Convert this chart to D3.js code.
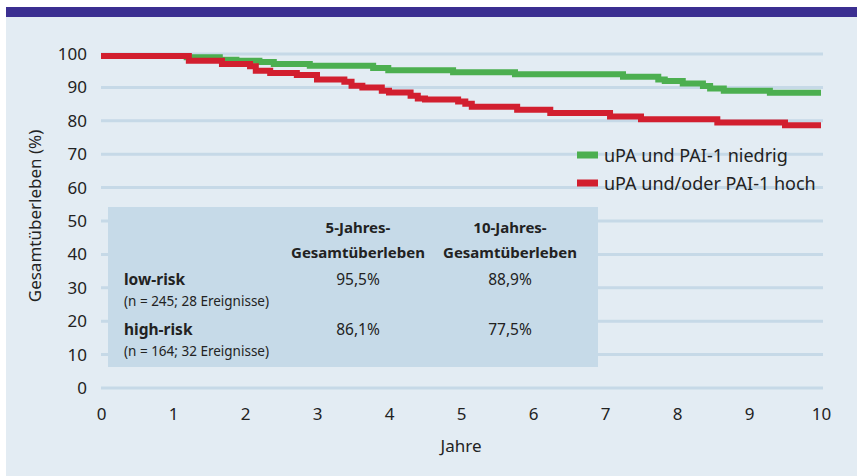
<!DOCTYPE html>
<html>
<head>
<meta charset="utf-8">
<script src="https://cdn.jsdelivr.net/npm/d3@7"></script>
<style>
  body { margin: 0; background: #fff; }
  svg text { font-family: "Noto Sans", sans-serif; fill: #222; }
</style>
</head>
<body>
<div id="chart"></div>
<script>
// Kaplan-Meier steps (years, survival %)
var lowYears  = [0, 1.19, 1.65, 1.88, 2.2, 2.4, 2.9, 3.78, 3.99, 4.89, 5.75, 7.25, 7.74, 7.83, 8.08, 8.36, 8.46, 8.65, 9.29, 10];
var lowSurv   = [99.4, 99.0, 98.3, 98.0, 97.6, 97.0, 96.5, 95.8, 95.1, 94.5, 93.9, 93.2, 92.4, 91.9, 91.2, 90.4, 89.7, 89.0, 88.4, 88.4];
var highYears = [0, 1.22, 1.68, 2.07, 2.15, 2.35, 2.72, 3.0, 3.38, 3.48, 3.63, 3.9, 4.0, 4.3, 4.4, 4.5, 4.96, 5.06, 5.15, 5.78, 6.24, 7.07, 7.5, 8.56, 9.5, 10];
var highSurv  = [99.4, 98.0, 97.0, 96.3, 95.0, 94.3, 93.7, 92.4, 91.7, 90.5, 90.0, 89.0, 88.5, 87.5, 86.7, 86.4, 85.8, 85.1, 84.2, 83.3, 82.3, 81.3, 80.5, 79.5, 78.7, 78.7];

var seriesNames = ["uPA und PAI-1 niedrig", "uPA und/oder PAI-1 hoch"];
var seriesColors = ["#4caf50", "#d21f2f"];

var xTicks = [0, 1, 2, 3, 4, 5, 6, 7, 8, 9, 10];
var yTicks = [0, 10, 20, 30, 40, 50, 60, 70, 80, 90, 100];

var tableCols = ["5-Jahres-", "10-Jahres-"];
var tableRows = ["low-risk", "high-risk"];
var tableSub  = ["(n = 245; 28 Ereignisse)", "(n = 164; 32 Ereignisse)"];
var tableVals = [["95,5%", "88,9%"], ["86,1%", "77,5%"]];

var width = 857, height = 476;

var svg = d3.select("#chart").append("svg")
    .attr("width", width)
    .attr("height", height);

// background panel + header bar
svg.append("rect").attr("x", 6).attr("y", 17).attr("width", width - 6).attr("height", height - 17).attr("fill", "#e3ecf3");
svg.append("rect").attr("x", 6).attr("y", 7).attr("width", width - 6).attr("height", 10).attr("fill", "#3b2f91");

var x = d3.scaleLinear().domain([0, 10]).range([101, 821]);
var y = d3.scaleLinear().domain([0, 100]).range([388, 54]);

// gridlines
svg.selectAll(".grid")
    .data(yTicks).enter().append("line")
    .attr("class", "grid")
    .attr("x1", x(0)).attr("x2", x(10) + 2)
    .attr("y1", function (d) { return y(d); })
    .attr("y2", function (d) { return y(d); })
    .attr("stroke", "#c6d9e7")
    .attr("stroke-width", 3);

// axes (labels only, no domain lines)
var yAxis = svg.append("g")
    .attr("transform", "translate(" + x(0) + ",0)")
    .call(d3.axisLeft(y).tickValues(yTicks).tickSize(0).tickPadding(14));
var xAxis = svg.append("g")
    .attr("transform", "translate(0," + (y(0) + 8) + ")")
    .call(d3.axisBottom(x).tickValues(xTicks).tickSize(0).tickPadding(12));
[xAxis, yAxis].forEach(function (a) {
    a.select(".domain").remove();
    a.selectAll("text").attr("font-size", 17).attr("fill", "#222")
        .style("font-family", '"Noto Sans", sans-serif');
});

svg.append("text")
    .attr("x", x(5)).attr("y", 452)
    .attr("text-anchor", "middle")
    .attr("font-size", 17)
    .text("Jahre");

svg.append("text")
    .attr("transform", "translate(41,216) rotate(-90)")
    .attr("text-anchor", "middle")
    .attr("font-size", 17)
    .text("Gesamtüberleben (%)");

// table box
var tb = svg.append("g");
tb.append("rect").attr("x", 108).attr("y", 207).attr("width", 490).attr("height", 160).attr("fill", "#c6dae8");
var colX = [358, 510];
tableCols.forEach(function (c, i) {
    tb.append("text").attr("x", colX[i]).attr("y", 233).attr("text-anchor", "middle")
        .attr("font-size", 15).attr("font-weight", "bold").text(c);
    tb.append("text").attr("x", colX[i]).attr("y", 258).attr("text-anchor", "middle")
        .attr("font-size", 15).attr("font-weight", "bold").text("Gesamtüberleben");
});
var rowY = [285, 335];
tableRows.forEach(function (r, i) {
    tb.append("text").attr("x", 124).attr("y", rowY[i])
        .attr("font-size", 15.5).attr("font-weight", "bold").text(r);
    tb.append("text").attr("x", 124).attr("y", rowY[i] + 21)
        .attr("font-size", 13.5).text(tableSub[i]);
    tableVals[i].forEach(function (v, j) {
        tb.append("text").attr("x", colX[j]).attr("y", rowY[i])
            .attr("text-anchor", "middle").attr("font-size", 15.5).text(v);
    });
});

// curves
var line = d3.line()
    .x(function (d) { return x(d[0]); })
    .y(function (d) { return y(d[1]); })
    .curve(d3.curveStepAfter);

var lowData = lowYears.map(function (t, i) { return [t, lowSurv[i]]; });
var highData = highYears.map(function (t, i) { return [t, highSurv[i]]; });

[lowData, highData].forEach(function (dat, i) {
    svg.append("path")
        .datum(dat)
        .attr("d", line)
        .attr("fill", "none")
        .attr("stroke", seriesColors[i])
        .attr("stroke-width", 6);
});

// legend
var legend = svg.selectAll(".legend")
    .data(seriesNames).enter().append("g")
    .attr("class", "legend")
    .attr("transform", function (d, i) { return "translate(577," + (155 + i * 28) + ")"; });
legend.append("rect")
    .attr("x", 0).attr("y", -3.5).attr("width", 21).attr("height", 7)
    .attr("fill", function (d, i) { return seriesColors[i]; });
legend.append("text")
    .attr("x", 27).attr("y", 6.5)
    .attr("font-size", 18)
    .text(function (d) { return d; });
</script>
</body>
</html>
